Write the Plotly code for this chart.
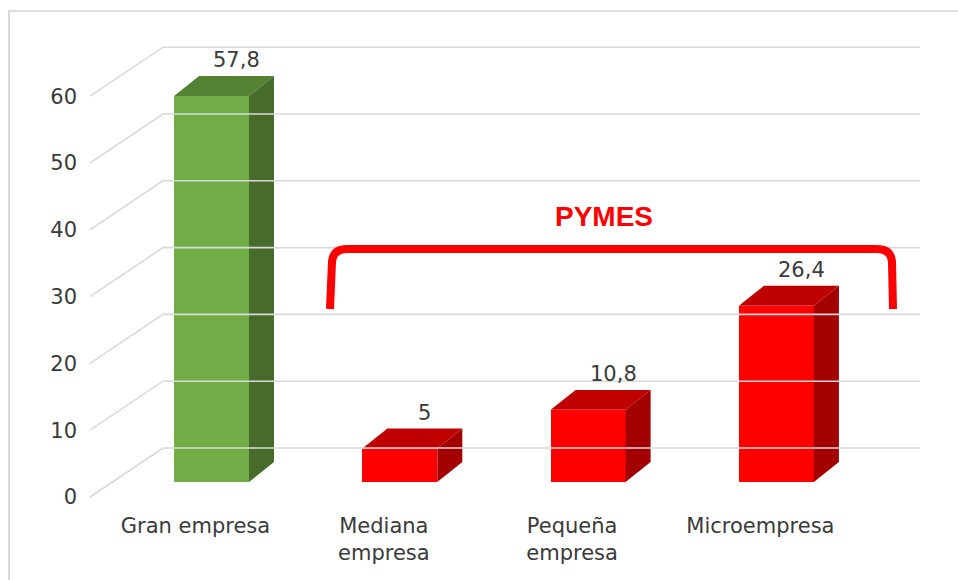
import plotly.graph_objects as go

# ---- data ----
categories = ["Gran empresa", "Mediana<br>empresa", "Pequeña<br>empresa", "Microempresa"]
values = [57.8, 5, 10.8, 26.4]
front_colors = ["#70AD47", "#FF0000", "#FF0000", "#FF0000"]
top_colors = ["#548235", "#C00000", "#C00000", "#C00000"]
side_colors = ["#476B2B", "#A30000", "#A30000", "#A30000"]
y_ticks = [0, 10, 20, 30, 40, 50, 60]
group_label = "PYMES"

# ---- pseudo-3D projection settings (data units) ----
BAR_W = 0.398          # front face width (category units)
DEPTH_X = 0.133        # bar depth offset in x
DEPTH_Y = 2.99         # bar depth offset in y
FRONT_SHIFT = 2.245    # bar plane -> front axis plane offset (y units)
WALL_SHIFT = 7.335     # front axis plane -> back wall offset (y units)
WALL_X0 = -0.2576      # back wall left x
X_RANGE = [-0.6453, 3.7626]
Y_RANGE = [-2.695, 67.665]
Y2_RANGE = [Y_RANGE[0] + FRONT_SHIFT, Y_RANGE[1] + FRONT_SHIFT]
LABEL_SHIFT = -0.085

FONT = "DejaVu Sans"
TXT = "#3A3A3A"

idx = list(range(len(categories)))
fig = go.Figure()

# gridlines (front axis plane -> back wall), on y2
for t in y_ticks:
    fig.add_trace(go.Scatter(
        x=[X_RANGE[0], WALL_X0, X_RANGE[1]],
        y=[t, t + WALL_SHIFT, t + WALL_SHIFT],
        mode="lines", line=dict(color="#D9D9D9", width=1.6),
        yaxis="y2", hoverinfo="skip", showlegend=False, cliponaxis=False))

# front faces
fig.add_trace(go.Bar(x=idx, y=values, width=BAR_W,
                     marker=dict(color=front_colors, line=dict(width=0)),
                     showlegend=False, hoverinfo="skip"))

# top and side faces
hw = BAR_W / 2
for i, v in zip(idx, values):
    fig.add_trace(go.Scatter(
        x=[i - hw, i + hw, i + hw + DEPTH_X, i - hw + DEPTH_X, i - hw],
        y=[v, v, v + DEPTH_Y, v + DEPTH_Y, v],
        fill="toself", fillcolor=top_colors[i], mode="lines",
        line=dict(width=0, color=top_colors[i]),
        hoverinfo="skip", showlegend=False))
    fig.add_trace(go.Scatter(
        x=[i + hw, i + hw, i + hw + DEPTH_X, i + hw + DEPTH_X, i + hw],
        y=[0, v, v + DEPTH_Y, DEPTH_Y, 0],
        fill="toself", fillcolor=side_colors[i], mode="lines",
        line=dict(width=0, color=side_colors[i]),
        hoverinfo="skip", showlegend=False))

annotations = []
for i, v in zip(idx, values):
    annotations.append(dict(
        x=i + DEPTH_X, y=v + DEPTH_Y, xref="x", yref="y",
        text=f"{v:g}".replace(".", ","), showarrow=False,
        yanchor="bottom", yshift=2,
        font=dict(family=FONT, size=21, color=TXT)))

annotations.append(dict(
    x=2.082, y=39.75, xref="x", yref="y", text=f"<b>{group_label}</b>",
    showarrow=False, font=dict(family="Liberation Sans, Arial", size=28, color="#FF0000")))

bracket = ("M 0.6293,25.898 L 0.6399,32.934 Q 0.6453,34.88 0.7196,34.88 "
           "L 3.5343,34.88 Q 3.6087,34.88 3.6139,32.934 L 3.6192,25.898")

shapes = [
    dict(type="path", path=bracket, xref="x", yref="y",
         line=dict(color="#FF0000", width=8), layer="above"),
    dict(type="rect", xref="paper", yref="paper",
         x0=-0.0976, y0=-0.3, x1=1.2, y1=1.0404,
         line=dict(color="#BFBFBF", width=1.2), fillcolor="rgba(0,0,0,0)"),
]

fig.update_layout(
    width=958, height=580,
    margin=dict(l=90, r=38, t=30, b=80),
    paper_bgcolor="white", plot_bgcolor="white",
    bargap=0, barmode="overlay",
    xaxis=dict(range=X_RANGE, showgrid=False, zeroline=False, showline=False,
               tickmode="array", tickvals=[i + LABEL_SHIFT for i in idx],
               ticktext=categories, ticks="",
               tickfont=dict(family=FONT, size=21, color=TXT),
               ticklabelstandoff=11),
    yaxis=dict(range=Y_RANGE, visible=False, showgrid=False, zeroline=False),
    yaxis2=dict(range=Y2_RANGE, overlaying="y", side="left",
                tickmode="array", tickvals=y_ticks, ticks="",
                showgrid=False, zeroline=False, showline=False,
                tickfont=dict(family=FONT, size=21, color=TXT),
                ticklabelstandoff=12),
    annotations=annotations, shapes=shapes,
    showlegend=False,
)

fig.write_html("out.html", config={"displayModeBar": False},
               post_script="document.body.style.margin='0px';document.body.style.overflow='hidden';")
